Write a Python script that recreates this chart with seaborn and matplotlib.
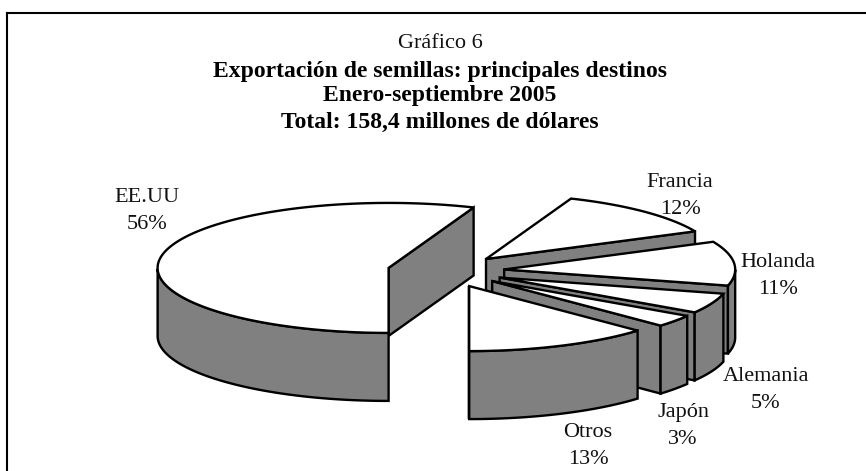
import numpy as np
import matplotlib
matplotlib.use('Agg')
import matplotlib.pyplot as plt
import seaborn as sns

# Datos del grafico
destinos = ['EE.UU', 'Francia', 'Holanda', 'Alemania', 'Japón', 'Otros']
porcentajes = [56, 12, 11, 5, 3, 13]

titulo = 'Gráfico 6'
subtitulos = ['Exportación de semillas: principales destinos',
              'Enero-septiembre 2005',
              'Total: 158,4 millones de dólares']

# Posicion de las etiquetas en pixeles
etiqueta_x = [147, 680, 778, 766, 683, 588]
etiqueta_y = [211, 196, 276, 390, 426, 446]

# Geometria del pastel 3D
centro_x, centro_y = 446, 271
radio_x, radio_y = 231, 65
alto = 68
explosion = 0.253
gris = '#808080'
grosor = 1.7

sns.set_theme(style='white')
plt.rcParams['font.family'] = ['Liberation Serif', 'DejaVu Serif']

fig = plt.figure(figsize=(8.66, 4.71), dpi=100)
ax = fig.add_axes([0, 0, 1, 1])
ax.set_xlim(0, 866)
ax.set_ylim(471, 0)
ax.axis('off')


def punto(cx, cy, ang):
    return cx + radio_x * np.cos(ang), cy - radio_y * np.sin(ang)


# Se dibuja en sentido horario desde abajo, cada porcion tapa a la anterior
inicio = -90.0
for valor in porcentajes:
    fin = inicio - valor * 3.6
    medio = np.radians((inicio + fin) / 2)
    cx = centro_x + explosion * radio_x * np.cos(medio)
    cy = centro_y - explosion * radio_y * np.sin(medio)

    angs = np.radians(np.linspace(inicio, fin, 200))
    ax_, ay_ = punto(cx, cy, angs)

    # cara del corte
    px, py = punto(cx, cy, np.radians(fin))
    ax.fill([cx, px, px, cx], [cy, py, py + alto, cy + alto], facecolor=gris,
            edgecolor='black', linewidth=grosor, joinstyle='miter')

    # lado curvo, solo la parte de adelante
    frente = np.sin(angs) <= 0
    if frente.any():
        fx, fy = ax_[frente], ay_[frente]
        ax.fill(np.r_[fx, fx[::-1]], np.r_[fy, fy[::-1] + alto], facecolor=gris,
                edgecolor='black', linewidth=grosor, joinstyle='miter')

    # cara de arriba
    ax.fill(np.r_[cx, ax_], np.r_[cy, ay_], facecolor='white',
            edgecolor='black', linewidth=grosor, joinstyle='miter')

    inicio = fin

for nombre, valor, x, y in zip(destinos, porcentajes, etiqueta_x, etiqueta_y):
    ax.text(x, y, f'{nombre}\n{valor}%', ha='center', va='center', fontsize=16,
            color='#111111', linespacing=1.55)

ax.text(440, 43, titulo, ha='center', va='center', fontsize=16, color='#111111')
for texto, y in zip(subtitulos, [71, 96, 122]):
    ax.text(440, y, texto, ha='center', va='center', fontsize=17, fontweight='bold', color='black')

# Marco: sin lado derecho ni de abajo
ax.plot([7, 7], [471, 13], color='black', linewidth=1.5, solid_capstyle='projecting')
ax.plot([7, 866], [13, 13], color='black', linewidth=1.5, solid_capstyle='projecting')

fig.savefig('out.png', dpi=100, facecolor='white')
